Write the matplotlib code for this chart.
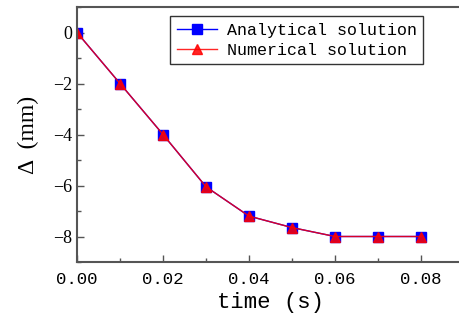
import matplotlib

matplotlib.use("Agg")
import matplotlib.pyplot as plt
from matplotlib.ticker import FormatStrFormatter, MultipleLocator

# Displacement over time
time_s = [0.00, 0.01, 0.02, 0.03, 0.04, 0.05, 0.06, 0.07, 0.08]
analytical_mm = [0.0, -2.0, -4.0, -6.05, -7.2, -7.65, -8.0, -8.0, -8.0]
numerical_mm = [0.0, -2.0, -4.0, -6.05, -7.2, -7.65, -8.0, -8.0, -8.0]

SERIF = "Liberation Serif"
MONO = "Liberation Mono"
SPINE = "#555555"

fig = plt.figure(figsize=(4.59, 3.24), dpi=100)
ax = fig.add_axes([77 / 459, 62 / 324, 387 / 459, 255 / 324])

ax.plot(time_s, analytical_mm, color="#0000ff", lw=1.0, marker="s", ms=6.5,
        label="Analytical solution")
ax.plot(time_s, numerical_mm, color="#ff0000", lw=1.0, marker="^", ms=7.5,
        alpha=0.85, label="Numerical solution")

ax.set_xlim(0, 0.09)
ax.set_ylim(-9, 1)
ax.xaxis.set_major_locator(MultipleLocator(0.02))
ax.xaxis.set_minor_locator(MultipleLocator(0.01))
ax.yaxis.set_major_locator(MultipleLocator(2))
ax.yaxis.set_minor_locator(MultipleLocator(1))
ax.xaxis.set_major_formatter(FormatStrFormatter("%.2f"))

ax.tick_params(which="both", direction="in", color=SPINE, top=False, right=False)
ax.tick_params(which="major", length=5, width=1)
ax.tick_params(which="minor", length=3, width=1)
ax.tick_params(axis="x", pad=7)
for lbl in ax.get_xticklabels():
    lbl.set_fontfamily(MONO)
    lbl.set_fontsize(12.5)
for lbl in ax.get_yticklabels():
    lbl.set_fontfamily(SERIF)
    lbl.set_fontsize(13)

for side in ("left", "bottom", "top", "right"):
    ax.spines[side].set_color(SPINE)
    ax.spines[side].set_linewidth(1.5)

ax.set_xlabel("time (s)", fontfamily=MONO, fontsize=16, labelpad=4)
ax.set_ylabel("Δ  (mm)", fontfamily=SERIF, fontsize=17, labelpad=10)

leg = ax.legend(loc="upper right", bbox_to_anchor=(0.895, 0.965),
                prop={"family": MONO, "size": 12}, frameon=True, fancybox=False,
                handlelength=2.4, handletextpad=0.6, borderpad=0.4,
                labelspacing=0.3, borderaxespad=0)
leg.get_frame().set_edgecolor("black")
leg.get_frame().set_linewidth(1.0)

fig.savefig("out.png", dpi=100)
